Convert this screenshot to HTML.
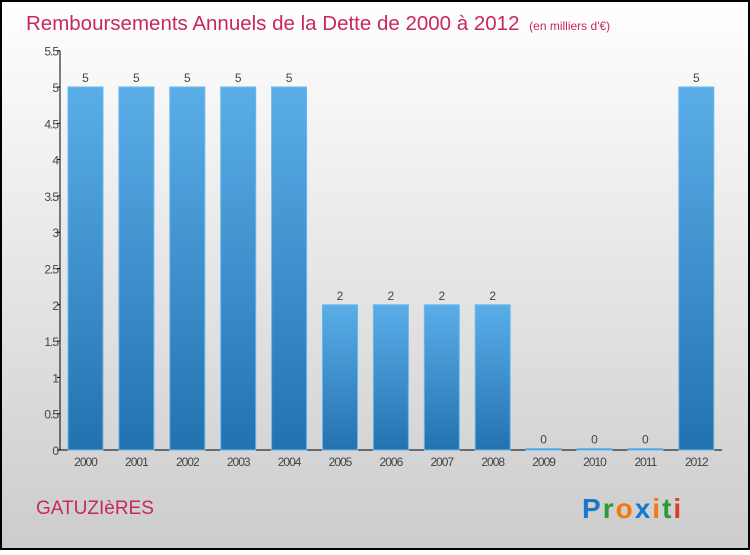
<!DOCTYPE html>
<html><head><meta charset="utf-8"><style>
body{margin:0;width:750px;height:550px;overflow:hidden;font-family:"Liberation Sans",sans-serif}
</style></head><body>
<svg id="c" width="750" height="550" xmlns="http://www.w3.org/2000/svg">
<defs>
<linearGradient id="bg" x1="0" y1="0" x2="0" y2="1"><stop offset="0" stop-color="#ffffff"/><stop offset="1" stop-color="#cccccc"/></linearGradient>
<linearGradient id="bar" x1="0" y1="0" x2="0" y2="1"><stop offset="0" stop-color="#5aaee8"/><stop offset="1" stop-color="#2372b0"/></linearGradient>
</defs>
<rect x="1" y="1" width="748" height="548" fill="url(#bg)" stroke="#000" stroke-width="2"/>
<text x="26" y="30" font-size="20.5" fill="#c8285a">Remboursements Annuels de la Dette de 2000 à 2012 <tspan font-size="12" dx="4">(en milliers d'€)</tspan></text>
<text x="36" y="514" font-size="19" fill="#c8285a">GATUZIèRES</text>
<g font-size="28" font-weight="bold">
<text x="582" y="518" letter-spacing="2"><tspan fill="#1a78c8">P</tspan><tspan fill="#2a9a3a">r</tspan><tspan fill="#f07a10">o</tspan><tspan fill="#1a78c8">x</tspan><tspan fill="#f07a10">i</tspan><tspan fill="#2a9a3a">t</tspan><tspan fill="#e03a2a">i</tspan></text>
</g>
<g id="plot"></g>
</svg>
<script>
const years=["2000","2001","2002","2003","2004","2005","2006","2007","2008","2009","2010","2011","2012"];
const values=[5,5,5,5,5,2,2,2,2,0,0,0,5];
const yTicks=[0,0.5,1,1.5,2,2.5,3,3.5,4,4.5,5,5.5];
const yTickLabels=["0","0.5","1","1.5","2","2.5","3","3.5","4","4.5","5","5.5"];
const NS="http://www.w3.org/2000/svg";
const g=document.getElementById('plot');
const x0=60,y0=450,pxU=72.6,step=50.9,bw=35,first=68;
const ys=v=>y0-v*pxU;
function el(t,a){const e=document.createElementNS(NS,t);for(const k in a)e.setAttribute(k,a[k]);g.appendChild(e);return e;}
const ax=el('line',{x1:x0,y1:ys(5.5),x2:x0,y2:y0,stroke:'#000'});


const bx=el('line',{x1:x0,y1:y0,x2:722,y2:y0,stroke:'#000'});


yTicks.forEach((v,i)=>{
  el('line',{x1:x0-3,y1:ys(v),x2:x0,y2:ys(v),stroke:'#000'});
  const t=el('text',{x:x0-2,y:ys(v)+5,'font-size':12,fill:'#444','text-anchor':'end','letter-spacing':'-1'});
  t.textContent=yTickLabels[i];
  
  
});
years.forEach((yr,i)=>{
  const x=first+i*step,v=values[i];
  const h=Math.max(v*pxU,1.5);
  const r=el('rect',{x:x,y:y0-h,width:bw,height:h,fill:'url(#bar)',stroke:'#6ab8ee','stroke-width':1});
  
  
  const l=el('text',{x:x+bw/2,y:y0-h-5,'font-size':12,fill:'#444','text-anchor':'middle'});
  l.textContent=v;
  
  
  const xl=el('text',{x:x+bw/2,y:y0+16,'font-size':12,fill:'#444','text-anchor':'middle','letter-spacing':'-1'});
  xl.textContent=yr;
  
  
});
</script>
</body></html>
